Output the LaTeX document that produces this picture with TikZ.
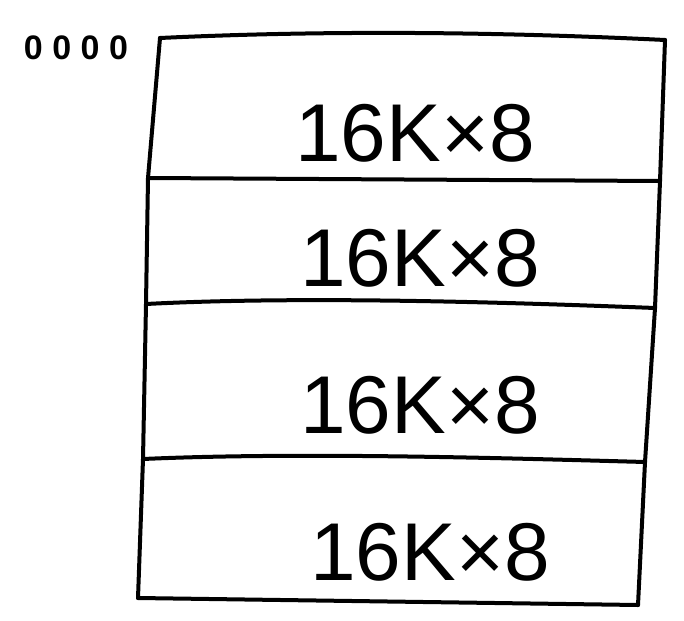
\documentclass[tikz,border=0pt]{standalone}
\usepackage{fontspec}
\setmainfont{Liberation Sans}
\newfontfamily\addrfont[LetterSpace=28]{Liberation Sans}
\usepackage{tikz}
\usetikzlibrary{positioning}

\begin{document}
\begin{tikzpicture}[
    x=1pt,y=-1pt,
    edge/.style={line width=4pt,line cap=round,line join=round},
    block/.style={font=\fontsize{82}{82}\selectfont,inner sep=0pt},
    addr/.style={font=\addrfont\bfseries\fontsize{34}{34}\selectfont,inner sep=0pt}
]
\useasboundingbox (0,0) rectangle (684,620);
% corners of the map
\coordinate (l0) at (160,38);  \coordinate (r0) at (665,40);
\coordinate (l1) at (148,178); \coordinate (r1) at (660,181);
\coordinate (l2) at (146,304); \coordinate (r2) at (655,308);
\coordinate (l3) at (143,459); \coordinate (r3) at (645,462);
\coordinate (l4) at (138,598); \coordinate (r4) at (638,605);
\draw[edge] (l0) .. controls (330,30) and (500,32) .. (r0);
\draw[edge] (l0) -- (l1) -- (l2) -- (l3) -- (l4);
\draw[edge] (r0) -- (r1) -- (r2) -- (r3) -- (r4);
\draw[edge] (l1) -- (r1);
\draw[edge] (l2) .. controls (300,296) and (500,302) .. (r2);
\draw[edge] (l3) .. controls (300,452) and (500,458) .. (r3);
\draw[edge] (l4) -- (r4);
% labels
\node[addr] (start) at (76,48) {0000};
\node[block] (m0) at (415,133) {16K×8};
\node[block] (m1) at (420,258) {16K×8};
\node[block] (m2) at (420,405) {16K×8};
\node[block] (m3) at (430,552) {16K×8};
\end{tikzpicture}
\end{document}
